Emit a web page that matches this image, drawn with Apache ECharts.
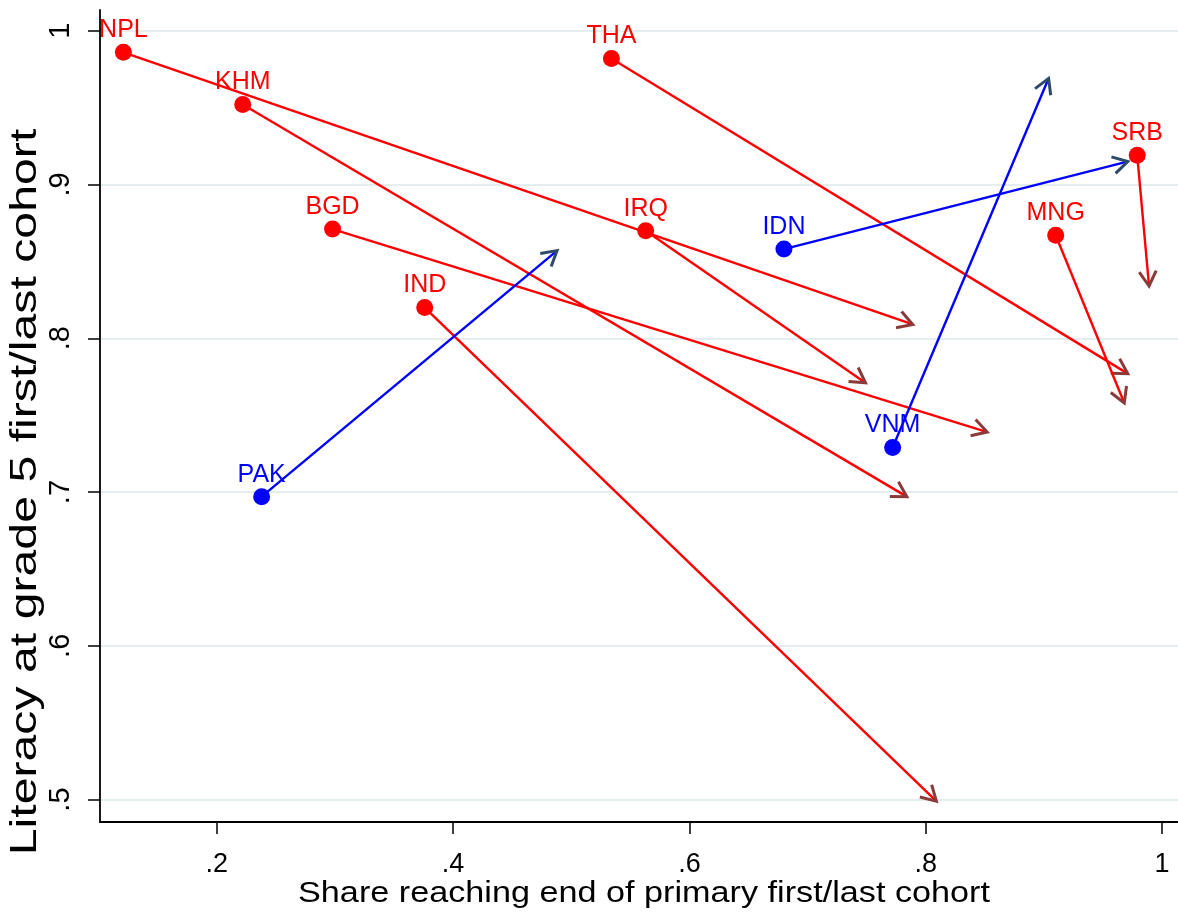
<!DOCTYPE html>
<html><head><meta charset="utf-8">
<script src="https://cdn.jsdelivr.net/npm/echarts@6/dist/echarts.min.js"></script>
<style>html,body{margin:0;padding:0;background:#fff}#c{width:1178px;height:916px}</style>
</head><body><div id="c"></div>
<script>
// ---- data ----
const countries = ['NPL','KHM','BGD','IND','THA','IRQ','MNG','SRB','PAK','IDN','VNM'];
const direction = ['down','down','down','down','down','down','down','down','up','up','up'];
const shareFirst = [0.121,0.222,0.298,0.376,0.534,0.563,0.910,0.979,0.238,0.680,0.772];
const literacyFirst = [0.986,0.952,0.871,0.820,0.982,0.870,0.867,0.919,0.697,0.858,0.729];
const shareLast = [0.789,0.784,0.852,0.809,0.971,0.749,0.968,0.989,0.488,0.971,0.904];
const literacyLast = [0.809,0.697,0.739,0.499,0.777,0.771,0.758,0.834,0.857,0.915,0.969];
const xTickValues = [0.2,0.4,0.6,0.8,1];
const xTickLabels = ['.2','.4','.6','.8','1'];
const yTickValues = [0.5,0.6,0.7,0.8,0.9,1];
const yTickLabels = ['.5','.6','.7','.8','.9','1'];
const xTitle = 'Share reaching end of primary first/last cohort';
const yTitle = 'Literacy at grade 5 first/last cohort';

const FONT = 'Liberation Sans, Arial, sans-serif';
const palette = {down:{line:'#ff0000',head:'#8b3a3a',text:'#ff0000'}, up:{line:'#0000ff',head:'#2e4a6b',text:'#0000ff'}};

const arrowData = countries.map((c,i)=>[shareFirst[i],literacyFirst[i],shareLast[i],literacyLast[i],i]);
const pointData = countries.map((c,i)=>({value:[shareFirst[i],literacyFirst[i]],name:c,
  itemStyle:{color:palette[direction[i]].line,opacity:1},label:{color:palette[direction[i]].text}}));

const chart = echarts.init(document.getElementById('c'),null,{renderer:'canvas'});
const fmt = (vals,labels)=>v=>{const k=vals.findIndex(t=>Math.abs(t-v)<1e-9);return k>=0?labels[k]:'';};
chart.setOption({
  animation:false,
  backgroundColor:'#fff',
  grid:{left:100,right:0,top:10,bottom:94,outerBoundsMode:'none',containLabel:false},
  graphic:[
    {type:'text',x:26,y:492,rotation:Math.PI/2,scaleX:1.34,scaleY:1,z:10,
     style:{text:yTitle,fill:'#000',font:'36px '+FONT,textAlign:'center',textVerticalAlign:'middle'}},
    {type:'text',x:644,y:894,scaleX:1.14,scaleY:1,z:10,
     style:{text:xTitle,fill:'#000',font:'30px '+FONT,textAlign:'center',textVerticalAlign:'middle'}}
  ],
  xAxis:{type:'value',min:0.1012,max:1.0135,
    axisLine:{onZero:false,lineStyle:{color:'#000',width:1.8}},
    axisTick:{show:true,length:12,customValues:xTickValues,lineStyle:{color:'#000',width:1.5}},
    axisLabel:{customValues:xTickValues,formatter:fmt(xTickValues,xTickLabels),color:'#000',fontSize:27,margin:29,fontFamily:FONT},
    splitLine:{show:false}},
  yAxis:{type:'value',min:0.4854,max:1.0135,
    axisLine:{onZero:false,lineStyle:{color:'#000',width:1.8}},
    axisTick:{show:true,length:12,customValues:yTickValues,lineStyle:{color:'#000',width:1.5}},
    axisLabel:{customValues:yTickValues,formatter:fmt(yTickValues,yTickLabels),rotate:90,color:'#000',fontSize:29,margin:25,fontFamily:FONT},
    splitLine:{show:true,lineStyle:{color:'#e4eef1',width:2}}},
  series:[
    {type:'custom',data:arrowData,z:2,
     renderItem:function(params,api){
       const i=api.value(4);
       const p0=api.coord([api.value(0),api.value(1)]);
       const p1=api.coord([api.value(2),api.value(3)]);
       const col=palette[direction[i]];
       const dx=p1[0]-p0[0],dy=p1[1]-p0[1];const L=Math.hypot(dx,dy);
       const ux=dx/L,uy=dy/L;const len=17,ang=Math.PI/6;
       const ca=Math.cos(ang),sa=Math.sin(ang);
       const b1=[p1[0]-len*(ux*ca-uy*sa),p1[1]-len*(uy*ca+ux*sa)];
       const b2=[p1[0]-len*(ux*ca+uy*sa),p1[1]-len*(uy*ca-ux*sa)];
       return {type:'group',children:[
         {type:'line',shape:{x1:p0[0],y1:p0[1],x2:p1[0]-ux*1.5,y2:p1[1]-uy*1.5},style:{stroke:col.line,lineWidth:2.4}},
         {type:'polyline',shape:{points:[b1,p1,b2]},style:{stroke:col.head,lineWidth:3,fill:null,lineJoin:'miter'}}
       ]};
     }},
    {type:'scatter',data:pointData,symbol:'circle',symbolSize:17,z:3,
     label:{show:true,position:'top',distance:1,formatter:'{b}',fontSize:25,fontFamily:FONT}}
  ]
});
</script></body></html>
